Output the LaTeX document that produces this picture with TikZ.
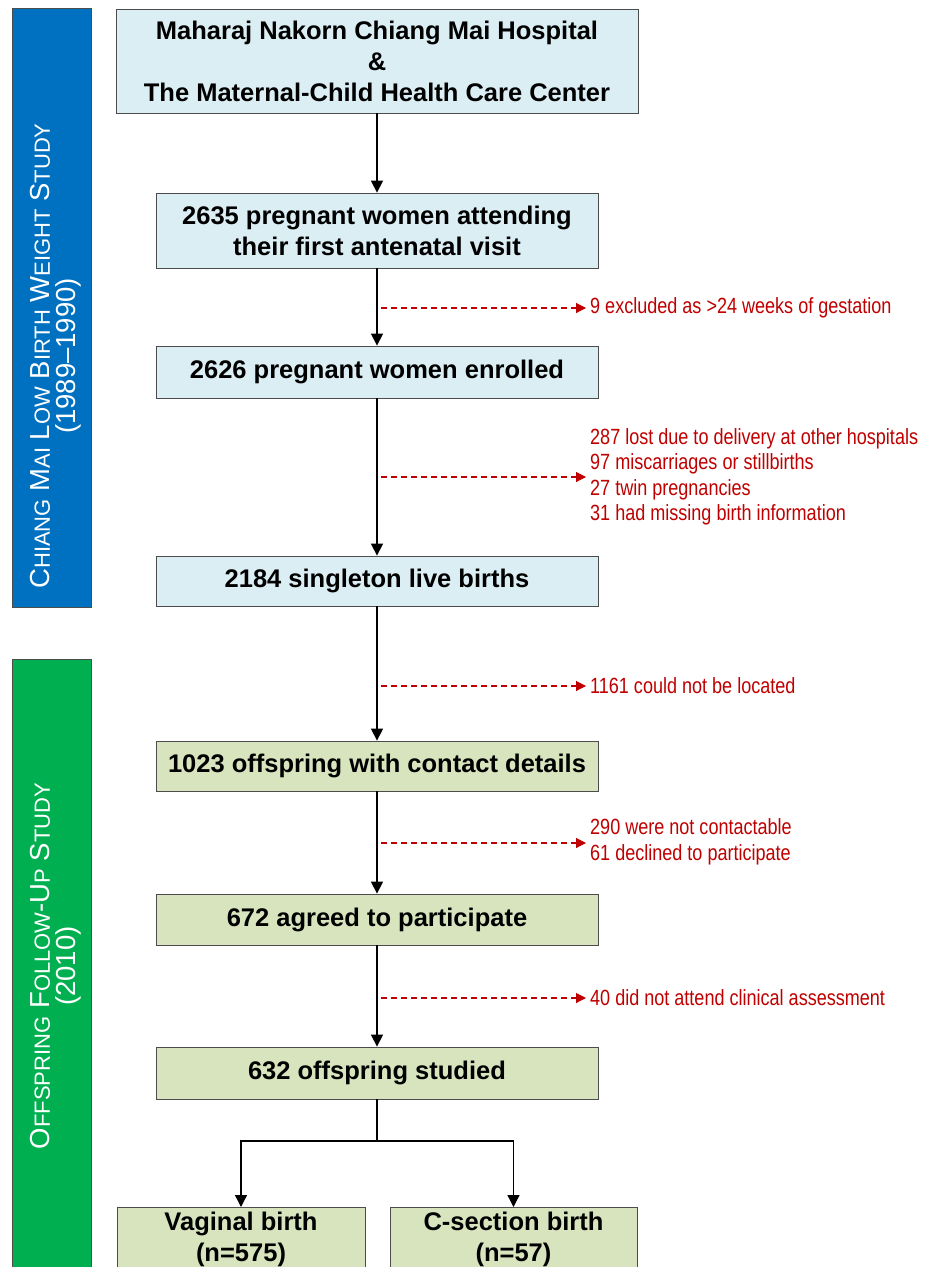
\documentclass[tikz,border=0pt]{standalone}
\usepackage{fontspec}
\setmainfont{Liberation Sans}
\newfontfamily\narrowfont[FakeStretch=0.82]{Liberation Sans}
\usetikzlibrary{arrows.meta}
\definecolor{barblue}{HTML}{0070C0}
\definecolor{bargreen}{HTML}{00B050}
\definecolor{boxblue}{HTML}{DBEEF4}
\definecolor{boxgreen}{HTML}{D7E4BD}
\definecolor{excred}{HTML}{C00000}
\newcommand{\scw}[2]{#1{\fontsize{22}{27}\selectfont #2}}

\begin{document}
\begin{tikzpicture}[x=1pt, y=-1pt,
		stage/.style={draw=black!70, line width=0.8pt, fill=boxblue, align=center, inner sep=0pt,
			font=\fontsize{25.5}{31}\selectfont\bfseries},
		follow/.style={stage, fill=boxgreen},
		flow/.style={-{Triangle[length=12pt,width=12pt]}, line width=1.3pt},
		exc/.style={-{Triangle[length=10pt,width=10pt]}, draw=excred, line width=1.1pt, dash pattern=on 6pt off 4pt},
		note/.style={text=excred, anchor=west, align=left, inner xsep=4pt, inner ysep=0pt,
			font=\narrowfont\fontsize{22}{25.5}\selectfont},
		bartext/.style={text=white, rotate=90, align=center, font=\fontsize{27.5}{26}\selectfont}]
				\clip (0,0) rectangle (925,1267);
				\fill[white] (0,0) rectangle (925,1267);
				% study bars
				\draw[draw=black!70, line width=0.8pt, fill=barblue] (12,8) rectangle (91,607);
				\draw[draw=black!70, line width=0.8pt, fill=bargreen] (12,659) rectangle (91,1300);
				\node[bartext] (lbw) at (56,356) {\scw{C}{HIANG} \scw{M}{AI} \scw{L}{OW} \scw{B}{IRTH} \scw{W}{EIGHT} \scw{S}{TUDY}\\(1989--1990)};
				\node[bartext] (fu) at (56,966) {\scw{O}{FFSPRING} \scw{F}{OLLOW}-\scw{U}{P} \scw{S}{TUDY}\\(2010)};
				% boxes
				\node[stage, minimum width=522pt, minimum height=104pt] (src) at (377,61) {Maharaj Nakorn Chiang Mai Hospital\\\&\\The Maternal-Child Health Care Center};
				\node[stage, minimum width=442pt, minimum height=75pt] (visit) at (377,230.5) {2635 pregnant women attending\\their first antenatal visit};
				\node[stage, minimum width=442pt, minimum height=52pt] (enrol) at (377,372) {2626 pregnant women enrolled};
				\node[stage, minimum width=442pt, minimum height=50pt] (live) at (377,581) {2184 singleton live births};
				\node[follow, minimum width=442pt, minimum height=50pt] (contact) at (377,766) {1023 offspring with contact details};
				\node[follow, minimum width=442pt, minimum height=51pt] (agreed) at (377,919.5) {672 agreed to participate};
				\node[follow, minimum width=442pt, minimum height=52pt] (studied) at (377,1073) {632 offspring studied};
				\node[follow, minimum width=248pt, anchor=north, inner ysep=5pt, text depth=60pt] (vag) at (241,1207) {Vaginal birth\\(n=575)};
				\node[follow, minimum width=247pt, anchor=north, inner ysep=5pt, text depth=60pt] (csec) at (513.5,1207) {C-section birth\\(n=57)};
				% flow
				\foreach \a/\b in {src/visit, visit/enrol, enrol/live, live/contact, contact/agreed, agreed/studied}
					\draw[flow] (\a) -- (\b);
				\coordinate (split) at (377,1141);
				\draw[line width=1.3pt] (studied) -- (split);
				\draw[flow] (split) -| (vag);
				\draw[flow] (split) -| (csec);
				% exclusions
				\node[note] (x1) at (586,308) {9 excluded as >24 weeks of gestation};
				\node[note] (x2) at (586,477) {287 lost due to delivery at other hospitals\\97 miscarriages or stillbirths\\27 twin pregnancies\\31 had missing birth information};
				\node[note] (x3) at (586,686) {1161 could not be located};
				\node[note] (x4) at (586,842) {290 were not contactable\\61 declined to participate};
				\node[note] (x5) at (586,998) {40 did not attend clinical assessment};
				\foreach \i/\y in {1/308, 2/477, 3/686, 4/843, 5/998} {
					\coordinate (e\i) at (381,\y);
					\draw[exc] (e\i) -- (x\i.west |- e\i);
				}
			\end{tikzpicture}
\end{document}
